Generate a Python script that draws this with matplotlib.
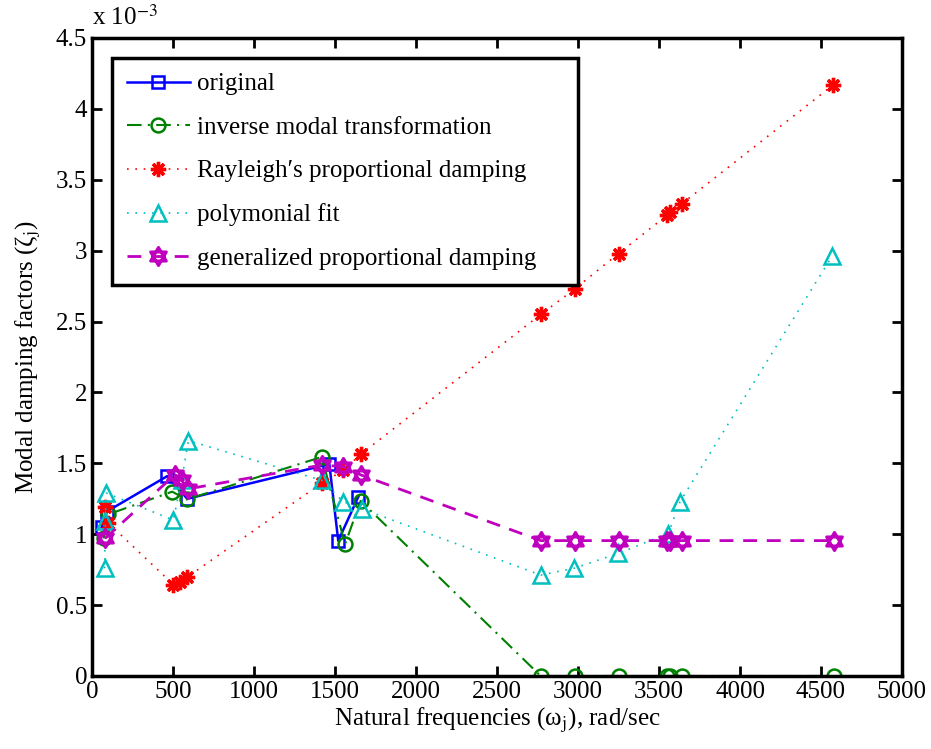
import matplotlib
matplotlib.use('Agg')
import matplotlib.pyplot as plt
from matplotlib.path import Path

plt.rcParams['font.family'] = ['Liberation Serif', 'DejaVu Serif']
plt.rcParams['mathtext.fontset'] = 'stix'
plt.rcParams['font.size'] = 18

# damping factors in units of 1e-3, frequencies in rad/sec
w_orig = [60, 91, 465, 588, 1465, 1520, 1644]
z_orig = [1.05, 1.16, 1.41, 1.25, 1.495, 0.954, 1.264]

w_imt = [72, 100, 495, 584, 1418, 1562, 1658, 2770, 2980, 3250, 3550, 3570, 3640, 4578]
z_imt = [0.97, 1.14, 1.30, 1.245, 1.545, 0.93, 1.235, 0, 0, 0, 0, 0, 0, 0]

w_ray = [80, 100, 502, 543, 584, 1418, 1551, 1660, 2770, 2980, 3250, 3550, 3570, 3640, 4576]
z_ray = [1.19, 1.08, 0.645, 0.665, 0.695, 1.36, 1.45, 1.565, 2.55, 2.73, 2.98, 3.25, 3.27, 3.33, 4.17]

w_poly = [78, 82, 88, 502, 553, 595, 1418, 1551, 1665, 2770, 2975, 3249, 3557, 3630, 4568]
z_poly = [0.76, 1.09, 1.29, 1.10, 1.38, 1.66, 1.38, 1.23, 1.18, 0.712, 0.76, 0.865, 1.005, 1.23, 2.96]

w_gen = [80, 512, 553, 595, 1418, 1551, 1660, 2770, 2980, 3250, 3550, 3570, 3640, 4578]
z_gen = [0.97, 1.42, 1.38, 1.32, 1.488, 1.476, 1.418, 0.955, 0.955, 0.955, 0.955, 0.955, 0.955, 0.955]

# star of David marker (two triangles) like matlab's hexagram
hexagram = Path([(0, 1), (-0.866, -0.5), (0.866, -0.5), (0, 1),
                 (0, -1), (-0.866, 0.5), (0.866, 0.5), (0, -1)],
                [Path.MOVETO, Path.LINETO, Path.LINETO, Path.CLOSEPOLY,
                 Path.MOVETO, Path.LINETO, Path.LINETO, Path.CLOSEPOLY])

fig = plt.figure(figsize=(9.31, 7.49), dpi=100)
ax = fig.add_axes([92 / 931, 73 / 749, 810 / 931, 638 / 749])

ax.plot(w_orig, z_orig, color='#0000ff', linestyle='-', lw=1.8, marker='s', ms=9,
        mfc='none', mew=1.8, label='original')
ax.plot(w_imt, z_imt, color='#008000', linestyle=(0, (7, 3, 1, 3)), lw=1.5, marker='o', ms=10,
        mfc='none', mew=1.8, label='inverse modal transformation')
ax.plot(w_ray, z_ray, color='#ff0000', linestyle=(0, (1, 4)), lw=1.2, marker=(8, 2, 0), ms=11,
        mew=2.4, label='Rayleigh\u2032s proportional damping')
ax.plot(w_poly, z_poly, color='#00bfbf', linestyle=(0, (1, 4)), lw=1.2, marker='^', ms=12,
        mfc='none', mew=1.8, label='polymonial fit')
ax.plot(w_gen, z_gen, color='#bf00bf', linestyle=(0, (5, 3.5)), lw=2, marker=hexagram, ms=13,
        mfc='none', mew=2.2, label='generalized proportional damping')

ax.set_xlim(0, 5000)
ax.set_ylim(0, 4.5)
ax.set_xticks(range(0, 5001, 500))
ax.set_yticks([0, 0.5, 1, 1.5, 2, 2.5, 3, 3.5, 4, 4.5])
ax.set_yticklabels(['0', '0.5', '1', '1.5', '2', '2.5', '3', '3.5', '4', '4.5'])
ax.tick_params(direction='in', length=7, width=2, top=True, right=True, labelsize=18)
for s in ax.spines.values():
    s.set_linewidth(2.5)

ax.text(0, 1.012, 'x 10$^{-3}$', transform=ax.transAxes, fontsize=18, va='bottom', ha='left')
ax.set_xlabel('Natural frequencies (\u03c9$_\\mathrm{j}$), rad/sec', fontsize=18, labelpad=2)
ax.set_ylabel('Modal damping factors (\u03b6$_\\mathrm{j}$)', fontsize=18, labelpad=9)

leg = ax.legend(loc='upper left', bbox_to_anchor=(0.0247, 0, 0.575, 0.969), mode='expand',
                borderaxespad=0, fontsize=18, handlelength=2.5, handletextpad=0.3,
                labelspacing=0.84, fancybox=False, framealpha=1, edgecolor='black',
                borderpad=0.6)
leg.get_frame().set_linewidth(2.5)

fig.savefig('out.png', dpi=100)
